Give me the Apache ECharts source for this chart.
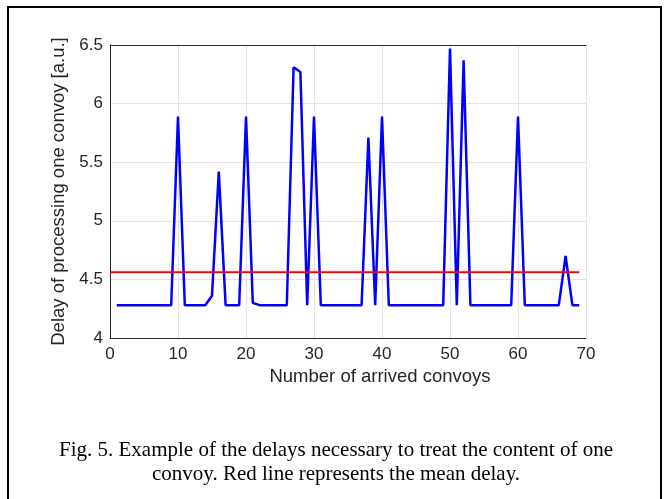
<!DOCTYPE html>
<html>
<head>
<meta charset="utf-8">
<script src="https://cdn.jsdelivr.net/npm/echarts@6/dist/echarts.min.js"></script>
<style>
  html, body { margin: 0; padding: 0; background: #fff; }
  #chart { width: 668px; height: 499px; }
</style>
</head>
<body>
<div id="chart"></div>
<script>
// convoy index 1..69
const convoys = Array.from({ length: 69 }, (_, i) => i + 1)
const delays = [
  4.28, 4.28, 4.28, 4.28, 4.28, 4.28, 4.28, 4.28, 4.28, 5.89,
  4.28, 4.28, 4.28, 4.28, 4.36, 5.42, 4.28, 4.28, 4.28, 5.89,
  4.30, 4.28, 4.28, 4.28, 4.28, 4.28, 6.31, 6.27, 4.28, 5.89,
  4.28, 4.28, 4.28, 4.28, 4.28, 4.28, 4.28, 5.71, 4.28, 5.89,
  4.28, 4.28, 4.28, 4.28, 4.28, 4.28, 4.28, 4.28, 4.28, 6.47,
  4.28, 6.37, 4.28, 4.28, 4.28, 4.28, 4.28, 4.28, 4.28, 5.89,
  4.28, 4.28, 4.28, 4.28, 4.28, 4.28, 4.70, 4.28, 4.28
]
const meanDelay = 4.56
const meanSpan = [0, 69]

const axisColor = '#262626'
const sans = 'Liberation Sans'

const lineOnly = { show: true, lineStyle: { color: axisColor, width: 1 } }
const gridLine = { show: true, lineStyle: { color: '#e3e3e3', width: 1 } }

const chart = echarts.init(document.getElementById('chart'))

chart.setOption({
  animation: false,
  backgroundColor: '#fff',
  grid: { left: 110, right: 82, top: 45, bottom: 161 },
  xAxis: [
    {
      type: 'value', min: 0, max: 70, interval: 10, position: 'bottom',
      axisLine: lineOnly,
      axisTick: { show: false },
      axisLabel: { color: axisColor, fontFamily: sans, fontSize: 17, margin: 8 },
      splitLine: gridLine
    },
    {
      type: 'value', min: 0, max: 70, interval: 10, position: 'top',
      axisLine: lineOnly, axisTick: { show: false },
      axisLabel: { show: false }, splitLine: { show: false }
    }
  ],
  yAxis: [
    {
      type: 'value', min: 4, max: 6.5, interval: 0.5, position: 'left',
      name: 'Delay of processing one convoy [a.u.]', nameLocation: 'middle', nameGap: 35,
      nameTextStyle: { color: axisColor, fontFamily: sans, fontSize: 18.5 },
      axisLine: lineOnly,
      axisTick: { show: false },
      axisLabel: { color: axisColor, fontFamily: sans, fontSize: 17, margin: 7 },
      splitLine: gridLine
    },
    {
      type: 'value', min: 4, max: 6.5, interval: 0.5, position: 'right',
      axisLine: lineOnly, axisTick: { show: false },
      axisLabel: { show: false }, splitLine: { show: false }
    }
  ],
  graphic: [
    {
      type: 'rect', silent: true,
      shape: { x: 8, y: 7, width: 653, height: 520 },
      style: { fill: 'none', stroke: '#000', lineWidth: 2 }
    },
    {
      type: 'text', silent: true, x: 380, y: 377,
      style: {
        text: 'Number of arrived convoys', fill: axisColor,
        font: '18.5px "Liberation Sans"', textAlign: 'center', textVerticalAlign: 'middle'
      }
    },
    {
      type: 'text', silent: true, x: 336, y: 450,
      style: {
        text: 'Fig. 5. Example of the delays necessary to treat the content of one',
        fill: '#000', font: '21px "Liberation Serif"', textAlign: 'center', textVerticalAlign: 'middle'
      }
    },
    {
      type: 'text', silent: true, x: 336, y: 474,
      style: {
        text: 'convoy. Red line represents the mean delay.',
        fill: '#000', font: '21px "Liberation Serif"', textAlign: 'center', textVerticalAlign: 'middle'
      }
    }
  ],
  series: [
    {
      name: 'delay', type: 'line', xAxisIndex: 0, yAxisIndex: 0,
      data: convoys.map((c, i) => [c, delays[i]]),
      showSymbol: false, symbol: 'none',
      lineStyle: { color: '#0000ff', width: 2.5 }
    },
    {
      name: 'mean', type: 'line', xAxisIndex: 0, yAxisIndex: 0,
      data: meanSpan.map(x => [x, meanDelay]),
      showSymbol: false, symbol: 'none',
      lineStyle: { color: '#ff0000', width: 2 }
    }
  ]
})
</script>
</body>
</html>
